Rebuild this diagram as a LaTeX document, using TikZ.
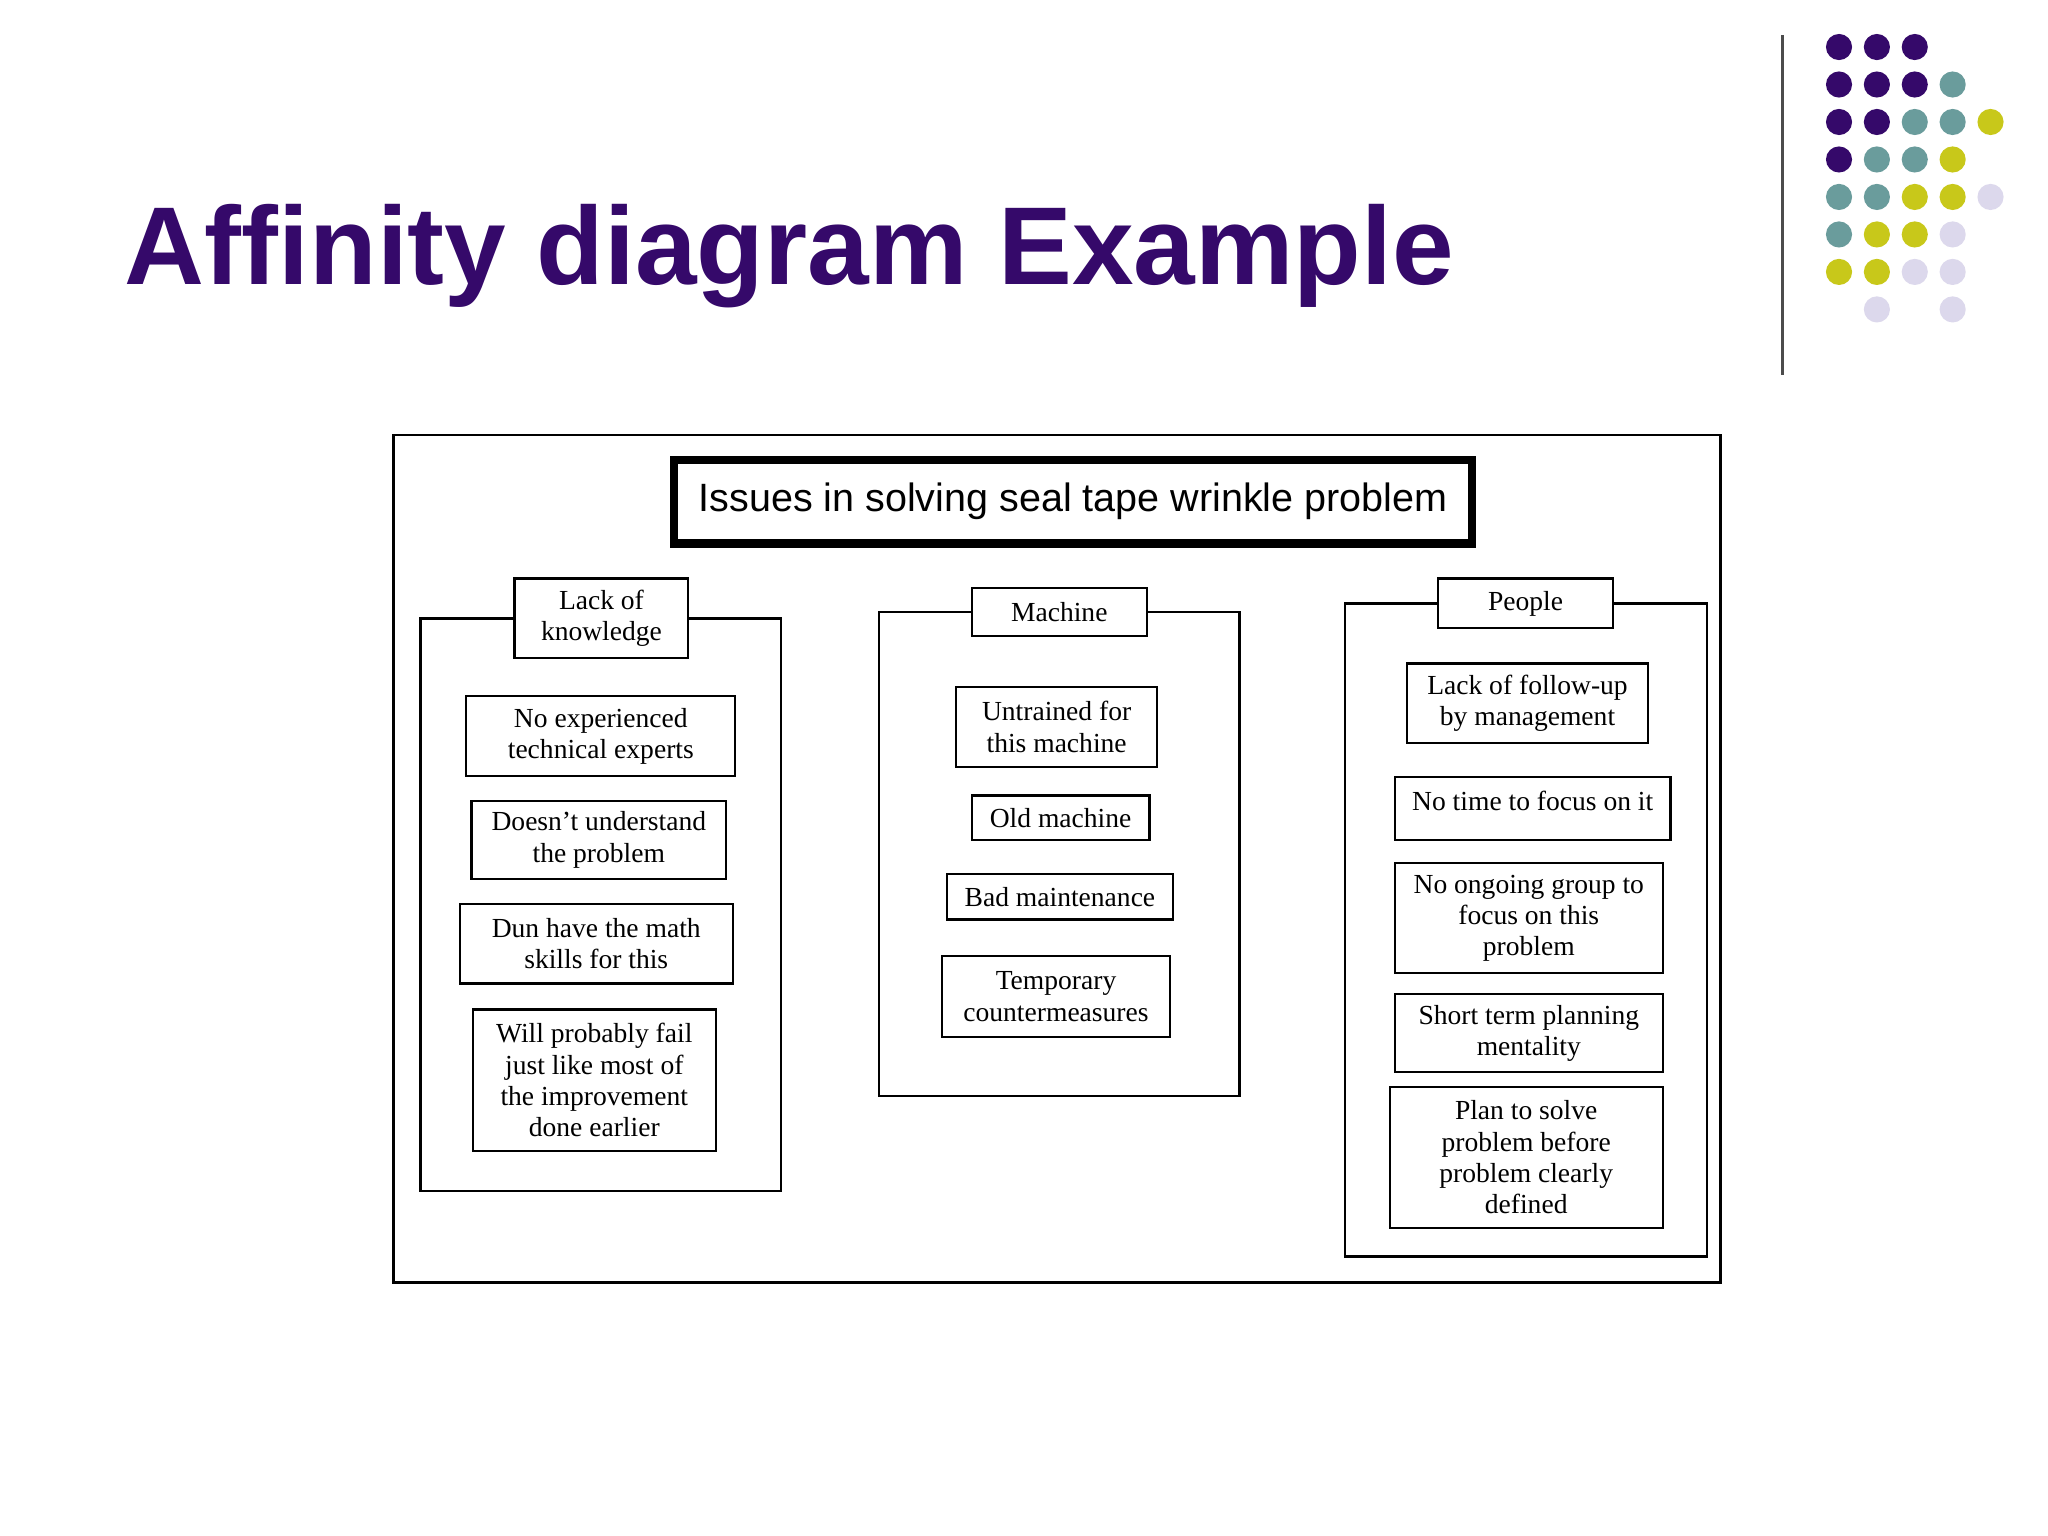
\documentclass[tikz,border=0pt]{standalone}
\usepackage{fontspec}
\setmainfont{Liberation Serif}
\newfontfamily\sans{Liberation Sans}
\definecolor{pur}{HTML}{35096A}
\definecolor{tea}{HTML}{6A9C9C}
\definecolor{ylw}{HTML}{C8C81A}
\definecolor{lav}{HTML}{DCD8EC}
\begin{document}
\begin{tikzpicture}[x=0.01cm,y=-0.01cm,
  box/.style={draw,line width=0.5pt,inner sep=0pt,align=center,font=\fontsize{6}{6.8}\selectfont},
  grp/.style={draw,line width=0.5pt},
  dot/.style={circle,inner sep=0pt,minimum size=0.2cm}]
\newcommand\bx[6]{\node[box,minimum width={(#4-#2)*0.01cm},minimum height={(#5-#3)*0.01cm}] (#1) at ({(#2+#4)/2},{(#3+#5)/2}) {#6};}
\useasboundingbox[fill=white] (0,0) rectangle (1568,1176);
\node[anchor=base west,inner sep=0pt,text=pur,font=\sans\bfseries\fontsize{24.1}{28}\selectfont] (title) at (95,218) {Affinity diagram Example};
\draw[line width=0.6pt,gray!60!black] (1365,27) coordinate (va) -- (1365,287) coordinate (vb);
% dots
\foreach \c/\r/\col in {0/0/pur,1/0/pur,2/0/pur,
 0/1/pur,1/1/pur,2/1/pur,3/1/tea,
 0/2/pur,1/2/pur,2/2/tea,3/2/tea,4/2/ylw,
 0/3/pur,1/3/tea,2/3/tea,3/3/ylw,
 0/4/tea,1/4/tea,2/4/ylw,3/4/ylw,4/4/lav,
 0/5/tea,1/5/ylw,2/5/ylw,3/5/lav,
 0/6/ylw,1/6/ylw,2/6/lav,3/6/lav,
 1/7/lav,3/7/lav}
 \node[dot,fill=\col] (d\c\r) at ({1408+29*\c},{36+28.7*\r}) {};
% frame
\draw[line width=0.6pt] (301,333) coordinate (f1) rectangle (1317,982) coordinate (f2);
\node[draw,line width=1.8pt,minimum width=6.11cm,minimum height=0.64cm,inner sep=0pt,font=\sans\fontsize{8.6}{10}\selectfont] (main) at (821.5,384) {Issues in solving seal tape wrinkle problem};
% headers
\bx{h1}{394}{443}{527}{504}{Lack of\\knowledge}
\bx{h2}{744}{450}{878}{487}{Machine}
\bx{h3}{1101}{443}{1235}{481}{People}
\draw[grp] (h1.west) -- (322,473.5) -- (322,912) -- (598,912) -- (598,473.5) -- (h1.east);
\draw[grp] (h2.west) -- (673,468.5) -- (673,839) -- (949,839) -- (949,468.5) -- (h2.east);
\draw[grp] (h3.west) -- (1030,462) -- (1030,962) -- (1307,962) -- (1307,462) -- (h3.east);
% items
\bx{a1}{357}{533}{563}{594}{No experienced\\technical experts}
\bx{a2}{361}{613}{556}{673}{Doesn’t understand\\the problem}
\bx{a3}{352}{692}{561}{753}{Dun have the math\\skills for this}
\bx{a4}{362}{773}{548}{881}{Will probably fail\\just like most of\\the improvement\\done earlier}
\bx{b1}{732}{526}{886}{587}{Untrained for\\this machine}
\bx{b2}{744}{609}{880}{643}{Old machine}
\bx{b3}{725}{669}{898}{704}{Bad maintenance}
\bx{b4}{721}{732}{896}{794}{Temporary\\countermeasures}
\bx{c1}{1077}{508}{1262}{569}{Lack of follow-up\\by management}
\node[box,minimum width=2.11cm,minimum height=0.48cm,anchor=north] (c2) at (1173.5,594) {};
\node[inner sep=0pt,font=\fontsize{6}{6.8}\selectfont] (c2t) at (1173.5,613) {No time to focus on it};
\bx{c3}{1068}{661}{1273}{745}{No ongoing group to\\focus on this\\problem}
\bx{c4}{1068}{761}{1273}{821}{Short term planning\\mentality}
\bx{c5}{1064}{832}{1273}{940}{Plan to solve\\problem before\\problem clearly\\defined}
\end{tikzpicture}
\end{document}
